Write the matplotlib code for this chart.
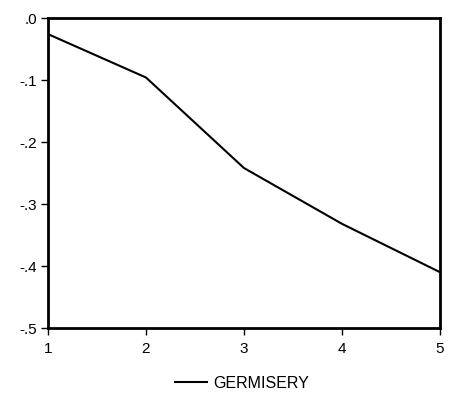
import matplotlib.pyplot as plt
import numpy as np

# series
periods = [1, 2, 3, 4, 5]
germisery = [-0.026, -0.096, -0.242, -0.332, -0.410]
yticks = [0.0, -0.1, -0.2, -0.3, -0.4, -0.5]
ytick_labels = ['.0', '-.1', '-.2', '-.3', '-.4', '-.5']

plt.rcParams['font.family'] = ['Liberation Sans', 'DejaVu Sans']

fig = plt.figure(figsize=(4.59, 4.00), dpi=100)
ax = fig.add_axes([48 / 459, 72 / 400, 392 / 459, 310 / 400])

line, = ax.plot(periods, germisery, color='black', linewidth=1.5,
                label='GERMISERY')

ax.set_xlim(1, 5)
ax.set_ylim(-0.5, 0.0)
ax.set_xticks(periods)
ax.set_xticklabels([str(p) for p in periods])
ax.set_yticks(yticks)
ax.set_yticklabels(ytick_labels)

for s in ax.spines.values():
    s.set_linewidth(2)
ax.tick_params(axis='both', direction='out', length=5, width=1,
               labelsize=11, colors='black')
ax.tick_params(axis='x', pad=5)
ax.tick_params(axis='y', pad=3)

fig.legend(handles=[line], loc='center', bbox_to_anchor=(242 / 459, 1 - 383 / 400),
           frameon=False, fontsize=11.5, handlelength=2.0, handletextpad=0.4)

fig.savefig('out.png', dpi=100)
